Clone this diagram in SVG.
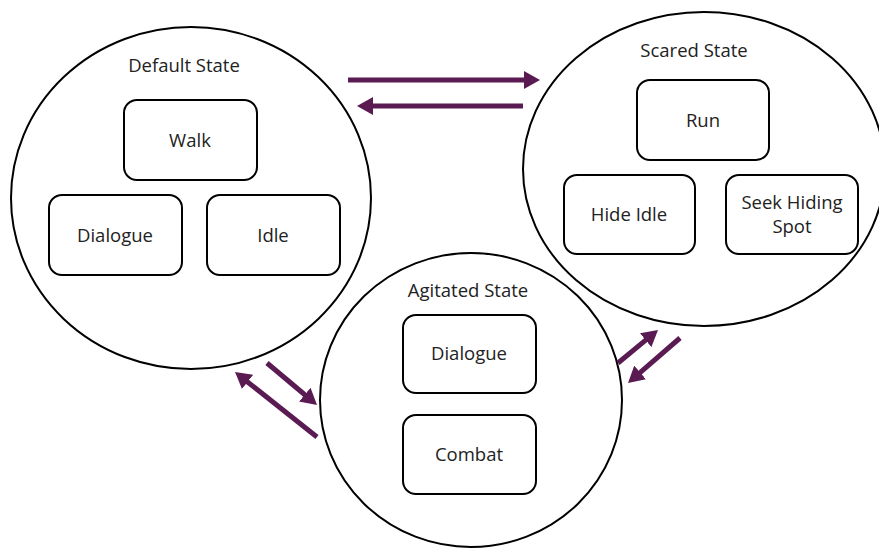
<svg xmlns="http://www.w3.org/2000/svg" width="879" height="549" viewBox="0 0 879 549">
<defs>
<style>
.state{fill:#fff;stroke:#000;stroke-width:2}
.box{fill:#fff;stroke:#000;stroke-width:2}
text{font-family:"Open Sans","Liberation Sans",sans-serif;font-size:18.5px;fill:#222;text-anchor:middle}
.conn line{stroke:#5a1a52;stroke-width:5}
</style>
<marker id="ah" markerUnits="userSpaceOnUse" markerWidth="18" markerHeight="18" viewBox="0 0 18 18" refX="2" refY="9" orient="auto">
<path d="M0,0 L16,9 L0,18 z" fill="#5a1a52"/>
</marker>
</defs>
<rect width="879" height="549" fill="#fff"/>
<g id="default-state">
<ellipse class="state" cx="191" cy="198" rx="180" ry="171"/>
<text x="184" y="72">Default State</text>
<g id="default-walk"><rect class="box" x="124" y="100" width="133" height="80" rx="13"/><text x="190" y="147">Walk</text></g>
<g id="default-dialogue"><rect class="box" x="49" y="195" width="133" height="80" rx="13"/><text x="115" y="242">Dialogue</text></g>
<g id="default-idle"><rect class="box" x="207" y="195" width="133" height="80" rx="13"/><text x="273" y="242">Idle</text></g>
</g>
<g id="scared-state">
<ellipse class="state" cx="704" cy="169" rx="181" ry="157"/>
<text x="694" y="57">Scared State</text>
<g id="scared-run"><rect class="box" x="637" y="80" width="132" height="80" rx="13"/><text x="703" y="127">Run</text></g>
<g id="scared-hide"><rect class="box" x="564" y="175" width="131" height="79" rx="13"/><text x="629" y="221">Hide Idle</text></g>
<g id="scared-seek"><rect class="box" x="726" y="175" width="132" height="79" rx="13"/><text x="792" y="209">Seek Hiding</text><text x="792" y="233">Spot</text></g>
</g>
<g id="agitated-state">
<ellipse class="state" cx="471" cy="400" rx="151" ry="147"/>
<text x="468" y="297">Agitated State</text>
<g id="agitated-dialogue"><rect class="box" x="403" y="315" width="133" height="78" rx="13"/><text x="469" y="360">Dialogue</text></g>
<g id="agitated-combat"><rect class="box" x="403" y="415" width="133" height="79" rx="13"/><text x="469" y="461">Combat</text></g>
</g>
<g id="connectors" class="conn">
<line x1="348" y1="80" x2="526" y2="80" marker-end="url(#ah)"/>
<line x1="523" y1="106" x2="371" y2="106" marker-end="url(#ah)"/>
<line x1="267" y1="363" x2="306.3" y2="396" marker-end="url(#ah)"/>
<line x1="317" y1="437" x2="246" y2="380.7" marker-end="url(#ah)"/>
<line x1="618" y1="363" x2="647.2" y2="338.9" marker-end="url(#ah)"/>
<line x1="680" y1="338" x2="638.6" y2="373.8" marker-end="url(#ah)"/>
</g>
</svg>
